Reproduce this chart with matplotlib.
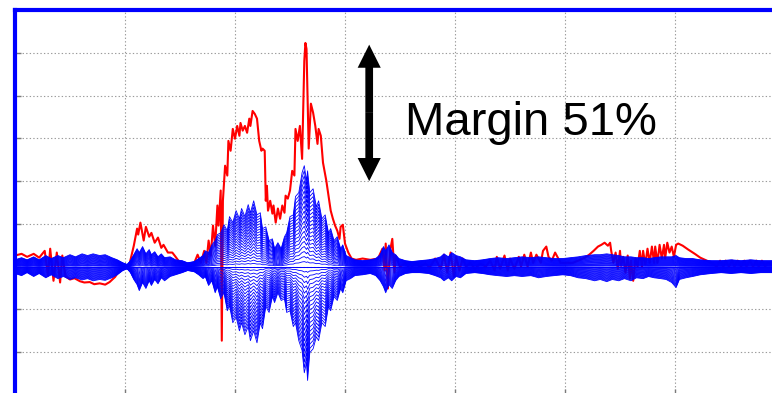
import numpy as np
import matplotlib
matplotlib.use("Agg")
import matplotlib.pyplot as plt

# ---- data (time in grid units, level in grid units) ----
red_trace = [
    (0.00, 0.26), (0.06, 0.30), (0.11, 0.23), (0.17, 0.30), (0.22, 0.21), (0.27, 0.37), (0.30, -0.21), (0.32, 0.42),
    (0.35, -0.33), (0.38, 0.33), (0.41, -0.37), (0.43, 0.26), (0.46, -0.23), (0.50, -0.30), (0.54, -0.27), (0.59, -0.34),
    (0.63, -0.37), (0.68, -0.36), (0.72, -0.41), (0.77, -0.39), (0.82, -0.42), (0.86, -0.36), (0.91, -0.24), (0.95, -0.08),
    (1.00, 0.00), (1.04, 0.05), (1.08, 0.49), (1.11, 0.89), (1.12, 0.75), (1.14, 1.03), (1.17, 0.61), (1.19, 0.93),
    (1.22, 0.70), (1.24, 0.79), (1.27, 0.56), (1.30, 0.68), (1.33, 0.44), (1.35, 0.51), (1.39, 0.33), (1.43, 0.33),
    (1.46, 0.23), (1.50, 0.09), (1.54, 0.05), (1.59, 0.00), (1.63, 0.09), (1.66, 0.28), (1.69, 0.09), (1.72, 0.37),
    (1.74, 0.09), (1.76, 0.61), (1.78, 0.26), (1.80, 0.96), (1.82, 0.49), (1.84, 1.43), (1.85, 0.96), (1.87, 1.78),
    (1.88, -1.73), (1.89, 1.54), (1.91, 2.36), (1.93, 2.13), (1.94, 2.94), (1.96, 2.71), (1.98, 3.22), (2.00, 2.99),
    (2.02, 3.29), (2.04, 3.06), (2.05, 3.36), (2.07, 3.18), (2.09, 3.29), (2.11, 3.13), (2.13, 3.46), (2.14, 3.29),
    (2.16, 3.64), (2.18, 3.57), (2.20, 3.46), (2.22, 2.94), (2.24, 2.71), (2.25, 2.76), (2.27, 2.71), (2.28, 1.54),
    (2.29, 1.89), (2.30, 1.31), (2.32, 1.54), (2.34, 1.24), (2.35, 1.43), (2.37, 1.03), (2.39, 1.36), (2.41, 1.12),
    (2.43, 1.43), (2.45, 1.26), (2.46, 1.66), (2.48, 1.59), (2.50, 1.78), (2.52, 2.24), (2.54, 2.13), (2.55, 3.22),
    (2.57, 2.94), (2.59, 3.29), (2.61, 2.52), (2.63, 4.81), (2.64, 5.23), (2.65, 5.09), (2.66, 3.88), (2.67, 2.76),
    (2.69, 3.81), (2.71, 3.60), (2.73, 3.29), (2.75, 2.87), (2.76, 3.22), (2.78, 3.06), (2.80, 2.43), (2.83, 2.01),
    (2.85, 1.66), (2.87, 1.31), (2.89, 1.12), (2.91, 0.96), (2.93, 0.84), (2.95, 0.65), (2.96, 0.93), (2.98, 0.98),
    (3.00, 0.54), (3.03, 0.33), (3.06, 0.19), (3.10, 0.16), (3.16, 0.19), (3.23, 0.16), (3.30, 0.19), (3.34, 0.42),
    (3.36, -0.09), (3.37, 0.54), (3.39, -0.51), (3.41, 0.37), (3.43, 0.65), (3.45, -0.14), (3.46, 0.26), (3.50, 0.00),
    (3.55, 0.09), (3.59, -0.05), (3.64, 0.09), (3.68, 0.00), (3.73, 0.07), (3.77, -0.02), (3.82, 0.19), (3.87, -0.05),
    (3.90, 0.28), (3.93, -0.14), (3.96, 0.33), (3.99, -0.23), (4.01, 0.23), (4.04, -0.09), (4.07, 0.19), (4.10, 0.00),
    (4.14, 0.09), (4.18, -0.05), (4.23, 0.07), (4.28, 0.00), (4.32, 0.14), (4.36, -0.09), (4.38, 0.23), (4.41, -0.05),
    (4.45, 0.26), (4.48, -0.09), (4.50, 0.19), (4.54, -0.05), (4.58, 0.23), (4.60, 0.00), (4.63, 0.28), (4.66, 0.00),
    (4.69, 0.33), (4.71, 0.09), (4.74, 0.28), (4.78, 0.09), (4.80, 0.37), (4.83, 0.47), (4.85, 0.23), (4.88, 0.14),
    (4.91, 0.33), (4.96, 0.09), (5.01, 0.09), (5.07, 0.09), (5.12, 0.14), (5.18, 0.21), (5.22, 0.28), (5.26, 0.37),
    (5.30, 0.47), (5.33, 0.51), (5.36, 0.56), (5.39, 0.49), (5.41, 0.56), (5.42, 0.37), (5.44, 0.09), (5.46, 0.33),
    (5.48, -0.05), (5.50, 0.37), (5.51, 0.02), (5.53, 0.23), (5.55, -0.14), (5.57, 0.26), (5.59, -0.28), (5.60, 0.14),
    (5.62, -0.33), (5.64, 0.19), (5.66, 0.00), (5.68, 0.37), (5.70, 0.00), (5.71, 0.37), (5.73, 0.05), (5.75, 0.42),
    (5.77, 0.09), (5.79, 0.47), (5.81, 0.09), (5.82, 0.47), (5.84, 0.09), (5.86, 0.51), (5.88, 0.19), (5.90, 0.51),
    (5.91, 0.19), (5.93, 0.56), (5.95, 0.33), (5.97, 0.47), (5.99, 0.23), (6.01, 0.51), (6.03, 0.54), (6.07, 0.49),
    (6.12, 0.40), (6.18, 0.30), (6.23, 0.21), (6.29, 0.14), (6.34, 0.07), (6.38, 0.00), (6.41, 0.14), (6.44, 0.00),
    (6.46, 0.14), (6.49, 0.00), (6.52, 0.14), (6.54, 0.00), (6.57, 0.14), (6.60, 0.00), (6.63, 0.14), (6.65, 0.00),
    (6.68, 0.14), (6.71, 0.00), (6.74, 0.14), (6.76, 0.00), (6.79, 0.14), (6.82, 0.00), (6.84, 0.09), (6.89, 0.05),
]

# blue family envelope: (time, upper extreme, lower extreme)
blue_envelope = [
    (0.00, 0.16, -0.16), (0.06, 0.21, -0.21), (0.11, 0.16, -0.14), (0.17, 0.23, -0.23), (0.22, 0.16, -0.16),
    (0.28, 0.26, -0.26), (0.33, 0.19, -0.19), (0.39, 0.26, -0.28), (0.44, 0.21, -0.23), (0.50, 0.28, -0.30),
    (0.55, 0.23, -0.26), (0.61, 0.30, -0.31), (0.66, 0.26, -0.28), (0.71, 0.30, -0.33), (0.77, 0.26, -0.30),
    (0.82, 0.28, -0.32), (0.88, 0.21, -0.26), (0.93, 0.16, -0.19), (0.98, 0.09, -0.09), (1.02, 0.05, -0.05),
    (1.05, 0.14, -0.14), (1.08, 0.28, -0.30), (1.11, 0.42, -0.42), (1.13, 0.33, -0.56), (1.16, 0.47, -0.37),
    (1.19, 0.30, -0.51), (1.22, 0.40, -0.33), (1.24, 0.28, -0.44), (1.27, 0.35, -0.30), (1.30, 0.23, -0.40),
    (1.33, 0.30, -0.26), (1.36, 0.21, -0.33), (1.41, 0.23, -0.23), (1.46, 0.16, -0.19), (1.52, 0.14, -0.14),
    (1.57, 0.09, -0.09), (1.63, 0.12, -0.12), (1.67, 0.19, -0.19), (1.71, 0.26, -0.28), (1.73, 0.37, -0.23),
    (1.76, 0.33, -0.44), (1.79, 0.51, -0.33), (1.82, 0.61, -0.61), (1.84, 0.75, -0.47), (1.87, 0.79, -0.75),
    (1.90, 0.98, -0.61), (1.93, 0.84, -1.03), (1.95, 1.17, -0.91), (1.98, 1.03, -1.31), (2.01, 1.31, -1.17),
    (2.04, 1.12, -1.50), (2.06, 1.36, -1.31), (2.09, 1.17, -1.59), (2.12, 1.45, -1.40), (2.14, 1.26, -1.73),
    (2.17, 1.54, -1.50), (2.20, 1.21, -1.78), (2.23, 1.26, -1.31), (2.25, 0.89, -1.45), (2.28, 0.93, -0.93),
    (2.31, 0.61, -1.07), (2.34, 0.65, -0.70), (2.36, 0.42, -0.84), (2.39, 0.56, -0.61), (2.42, 0.42, -0.79),
    (2.45, 0.70, -0.75), (2.47, 0.79, -1.07), (2.50, 1.17, -1.03), (2.53, 1.21, -1.40), (2.55, 1.64, -1.31),
    (2.58, 1.73, -1.73), (2.61, 2.20, -1.96), (2.63, 2.36, -2.48), (2.65, 2.01, -2.24), (2.66, 2.24, -2.66),
    (2.68, 1.73, -2.01), (2.71, 1.82, -1.92), (2.74, 1.40, -1.64), (2.76, 1.54, -1.73), (2.79, 1.12, -1.31),
    (2.82, 1.21, -1.40), (2.85, 0.79, -0.93), (2.87, 0.89, -1.03), (2.90, 0.61, -0.70), (2.93, 0.70, -0.79),
    (2.96, 0.42, -0.51), (2.98, 0.51, -0.61), (3.01, 0.26, -0.33), (3.05, 0.21, -0.28), (3.09, 0.16, -0.21),
    (3.16, 0.14, -0.19), (3.23, 0.16, -0.16), (3.28, 0.19, -0.21), (3.32, 0.28, -0.33), (3.35, 0.47, -0.47),
    (3.37, 0.37, -0.61), (3.40, 0.51, -0.42), (3.43, 0.33, -0.51), (3.46, 0.28, -0.33), (3.49, 0.19, -0.23),
    (3.55, 0.14, -0.16), (3.61, 0.12, -0.14), (3.68, 0.14, -0.14), (3.76, 0.16, -0.16), (3.82, 0.19, -0.21),
    (3.87, 0.23, -0.26), (3.90, 0.30, -0.33), (3.94, 0.23, -0.26), (3.97, 0.33, -0.33), (4.01, 0.26, -0.23),
    (4.05, 0.23, -0.26), (4.10, 0.16, -0.16), (4.18, 0.14, -0.14), (4.25, 0.16, -0.16), (4.32, 0.19, -0.19),
    (4.39, 0.21, -0.21), (4.47, 0.19, -0.23), (4.54, 0.21, -0.21), (4.61, 0.23, -0.23), (4.69, 0.21, -0.21),
    (4.76, 0.23, -0.26), (4.83, 0.21, -0.23), (4.90, 0.19, -0.21), (4.98, 0.19, -0.19), (5.05, 0.21, -0.21),
    (5.12, 0.23, -0.26), (5.19, 0.26, -0.28), (5.27, 0.28, -0.33), (5.32, 0.28, -0.30), (5.38, 0.30, -0.35),
    (5.43, 0.28, -0.30), (5.49, 0.26, -0.33), (5.54, 0.23, -0.28), (5.60, 0.23, -0.33), (5.65, 0.21, -0.26),
    (5.71, 0.21, -0.28), (5.76, 0.19, -0.23), (5.81, 0.21, -0.26), (5.87, 0.23, -0.28), (5.92, 0.23, -0.30),
    (5.97, 0.23, -0.37), (6.01, 0.26, -0.49), (6.04, 0.21, -0.30), (6.10, 0.19, -0.26), (6.16, 0.19, -0.23),
    (6.23, 0.16, -0.19), (6.33, 0.14, -0.16), (6.42, 0.14, -0.14), (6.51, 0.16, -0.16), (6.60, 0.14, -0.14),
    (6.69, 0.16, -0.16), (6.78, 0.14, -0.14), (6.89, 0.14, -0.14),
]

# relative levels of the individual blue traces inside the envelope
blue_levels = [1.00, 0.95, 0.90, 0.85, 0.80, 0.75, 0.70, 0.65, 0.60, 0.55, 0.50,
               0.45, 0.40, 0.35, 0.30, 0.25, 0.20, 0.15, 0.10, 0.05, 0.00]

margin_top = 5.19
margin_bottom = 2.00
margin_label = "Margin 51%"

# ---- plot ----
red_t = np.array([p[0] for p in red_trace])
red_v = np.array([p[1] for p in red_trace])
blue_t = np.array([p[0] for p in blue_envelope])
blue_up = np.array([p[1] for p in blue_envelope])
blue_lo = np.array([p[2] for p in blue_envelope])

fig = plt.figure(figsize=(7.72, 3.93), dpi=100)
ax = fig.add_axes([15 / 772, -2 / 393, 770 / 772, 385 / 393])
ax.set_xlim(0, 7)
ax.set_ylim(-3, 6)

ax.plot(red_t, red_v, color="#ff0000", lw=1.5, zorder=2)
for f in blue_levels:
    ax.plot(blue_t, blue_up * f, color="#0000ff", lw=0.6, zorder=3)
    ax.plot(blue_t, blue_lo * f, color="#0000ff", lw=0.6, zorder=3)

ax.set_xticks(range(0, 8))
ax.set_yticks(range(-3, 7))
ax.grid(True, color="#9a9a9a", lw=0.8, ls=(0, (1.2, 2.0)), zorder=0)
ax.tick_params(direction="in", length=4.5, width=1.0, color="#7a7a7a",
               labelleft=False, labelbottom=False)
for side in ("right", "bottom"):
    ax.spines[side].set_visible(False)
for side in ("left", "top"):
    ax.spines[side].set_color("#0000ff")
    ax.spines[side].set_linewidth(3.0)

# double-headed arrow
mid = (margin_top + margin_bottom) / 2
ax_x = 3.22
for tip in (margin_top, margin_bottom):
    ax.arrow(ax_x, mid, 0, tip - mid, width=0.07, head_width=0.21, head_length=0.54,
             length_includes_head=True, color="black", lw=0, zorder=5)

ax.text(3.545, 3.08, margin_label, fontsize=34, family="Liberation Sans",
        ha="left", va="baseline", color="black", zorder=6)

fig.savefig("out.png", dpi=100)
